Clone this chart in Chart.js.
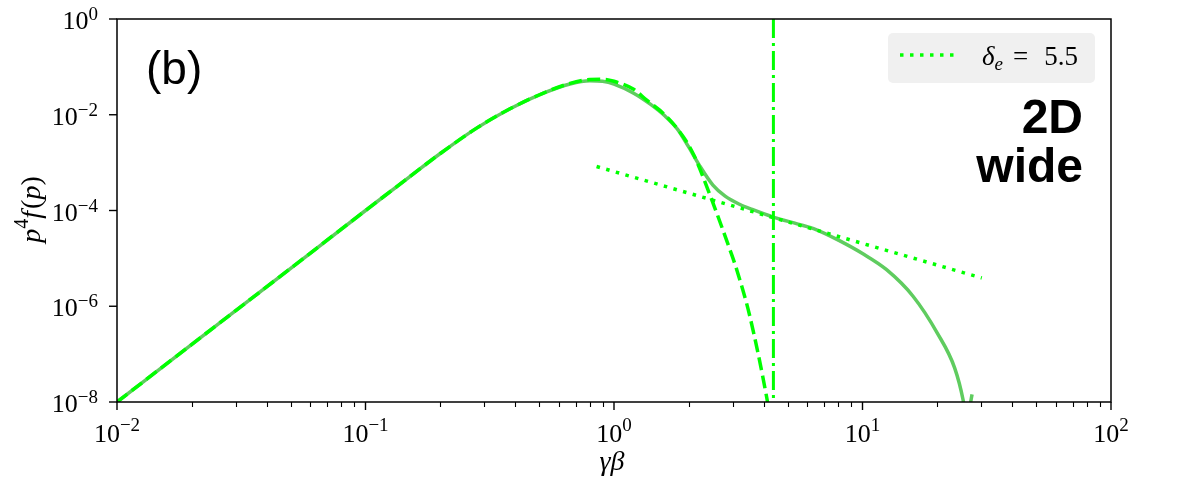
<!DOCTYPE html>
<html>
<head>
<meta charset="utf-8">
<script src="https://cdn.jsdelivr.net/npm/chart.js@4.4.1/dist/chart.umd.min.js"></script>
<style>
  html, body { margin: 0; padding: 0; background: #fff; }
  canvas { display: block; }
</style>
</head>
<body>
<canvas id="myChart" width="1196" height="487"></canvas>
<script>
// simulation spectrum (solid)
const simX = [0.01, 0.02, 0.05, 0.1, 0.15, 0.2, 0.28, 0.38, 0.52, 0.665, 0.8, 0.9, 1.0, 1.2, 1.4, 1.6, 1.8, 2.0, 2.2, 2.5, 2.8, 3.2, 3.6, 4.4, 5.5, 6.5, 8, 10, 12.5, 16, 20, 23.5, 25.4, 26.2, 27.6];
const simY = [1e-8, 1.6e-7, 6.2e-6, 1.0e-4, 5.0e-4, 1.55e-3, 5.25e-3, 0.0132, 0.0282, 0.044, 0.0515, 0.050, 0.0437, 0.0282, 0.0166, 0.0095, 0.0050, 0.0021, 9.0e-4, 3.4e-4, 2.0e-4, 1.35e-4, 1.05e-4, 7.2e-5, 5.2e-5, 4.0e-5, 2.4e-5, 1.26e-5, 5.8e-6, 1.6e-6, 2.75e-7, 5.1e-8, 1.1e-8, 4e-9, 1.45e-8];

// maxwellian fit (dashed)
const maxX = [0.01, 0.02, 0.05, 0.1, 0.15, 0.2, 0.28, 0.38, 0.52, 0.665, 0.8, 0.9, 1.0, 1.2, 1.35, 1.6, 1.9, 2.1, 2.43, 2.93, 3.12, 3.52, 4.11, 4.3];
const maxY = [1e-8, 1.6e-7, 6.2e-6, 1.0e-4, 5.0e-4, 1.55e-3, 5.25e-3, 0.0132, 0.0284, 0.0452, 0.0543, 0.055, 0.050, 0.034, 0.0204, 0.010, 3.47e-3, 1.41e-3, 2.14e-4, 1.5e-5, 5.75e-6, 6.2e-7, 1.3e-8, 3.2e-9];

// power law, delta_e = 5.5 (dotted)
const powX = [0.851, 30.2];
const powY = [8.3e-4, 3.9e-6];

// injection momentum marker (dash-dot)
const cutX = [4.38, 4.38];
const cutY = [1, 1e-8];

const xTicks = [-2, -1, 0, 1, 2];
const yTicks = [0, -2, -4, -6, -8];
const legendLabel = '5.5';

const lime = '#00ff00';
const simColor = '#5fcc5f';

function pts(xs, ys) {
    return xs.map((x, i) => ({ x: x, y: ys[i] }));
}

const serif = '"Liberation Serif"';

// axes, ticks, labels, legend, annotations
const decor = {
    id: 'decor',
    afterDraw(chart) {
        const c = chart.ctx;
        const a = chart.chartArea;
        const sx = chart.scales.x, sy = chart.scales.y;
        c.save();
        c.strokeStyle = '#000';
        c.fillStyle = '#000';

        // minor x ticks
        c.lineWidth = 1.1;
        for (let d = -2; d < 2; d++) {
            for (let k = 2; k < 10; k++) {
                const px = Math.round(sx.getPixelForValue(k * Math.pow(10, d))) + 0.5;
                c.beginPath(); c.moveTo(px, a.bottom); c.lineTo(px, a.bottom + 5); c.stroke();
            }
        }
        // major x ticks + labels
        c.lineWidth = 1.4;
        xTicks.forEach(e => {
            const px = sx.getPixelForValue(Math.pow(10, e));
            c.beginPath(); c.moveTo(px, a.bottom); c.lineTo(px, a.bottom + 8); c.stroke();
            const ex = (e < 0 ? '\u2212' : '') + Math.abs(e);
            c.font = '26px ' + serif;
            const w1 = c.measureText('10').width;
            c.font = '19px ' + serif;
            const w2 = c.measureText(ex).width;
            const x0 = px - (w1 + w2) / 2;
            c.textAlign = 'left'; c.textBaseline = 'alphabetic';
            c.font = '26px ' + serif;
            c.fillText('10', x0, a.bottom + 40);
            c.font = '19px ' + serif;
            c.fillText(ex, x0 + w1, a.bottom + 29);
        });
        // major y ticks + labels
        yTicks.forEach(e => {
            const py = sy.getPixelForValue(Math.pow(10, e));
            c.beginPath(); c.moveTo(a.left, py); c.lineTo(a.left - 8, py); c.stroke();
            const ex = (e < 0 ? '\u2212' : '') + Math.abs(e);
            c.font = '19px ' + serif;
            const w2 = c.measureText(ex).width;
            c.font = '26px ' + serif;
            const w1 = c.measureText('10').width;
            const xr = a.left - 19;
            c.textAlign = 'left';
            c.fillText('10', xr - w2 - w1, py + 10);
            c.font = '19px ' + serif;
            c.fillText(ex, xr - w2, py + 1);
        });

        // frame
        c.lineWidth = 1.5;
        c.strokeRect(a.left, a.top, a.right - a.left, a.bottom - a.top);

        // axis titles
        c.font = 'italic 28px ' + serif;
        c.textAlign = 'center';
        c.fillText('\u03b3\u03b2', (a.left + a.right) / 2 - 2, 470);

        c.save();
        c.translate(40, (a.top + a.bottom) / 2);
        c.rotate(-Math.PI / 2);
        const parts = [
            ['p', 'italic 28px ' + serif, 0],
            ['4', '20px ' + serif, -12],
            ['f', 'italic 28px ' + serif, 0],
            ['(', '28px ' + serif, 0],
            ['p', 'italic 28px ' + serif, 0],
            [')', '28px ' + serif, 0]
        ];
        let tw = 0;
        parts.forEach(p => { c.font = p[1]; tw += c.measureText(p[0]).width; });
        let cx = -tw / 2;
        c.textAlign = 'left';
        parts.forEach(p => {
            c.font = p[1];
            c.fillText(p[0], cx, p[2]);
            cx += c.measureText(p[0]).width + (p[0] === 'f' ? 2 : 0);
        });
        c.restore();

        // panel tag
        c.font = '46px "Liberation Sans"';
        c.textAlign = 'left';
        c.fillText('(b)', 146, 84);

        // 2D wide
        c.font = 'bold 48px "Liberation Sans"';
        c.textAlign = 'right';
        c.fillText('2D', 1083, 133);
        c.fillText('wide', 1083, 182);

        // legend box
        c.fillStyle = '#f0f0f0';
        c.beginPath();
        c.roundRect(888, 33, 207, 50, 5);
        c.fill();
        c.strokeStyle = lime;
        c.lineWidth = 3.5;
        c.setLineDash([3.5, 6.5]);
        c.beginPath(); c.moveTo(900, 55); c.lineTo(960, 55); c.stroke();
        c.setLineDash([]);
        c.fillStyle = '#000';
        c.textAlign = 'left';
        let lx = 982;
        c.font = 'italic 27px ' + serif;
        c.fillText('\u03b4', lx, 65);
        lx += c.measureText('\u03b4').width;
        c.font = 'italic 19px ' + serif;
        c.fillText('e', lx, 70);
        lx += c.measureText('e').width + 10;
        c.font = '27px ' + serif;
        c.fillText('=', lx, 65);
        lx += c.measureText('=').width + 16;
        c.fillText(legendLabel, lx, 65);

        c.restore();
    }
};

new Chart(document.getElementById('myChart'), {
    type: 'line',
    data: {
        datasets: [{
            label: 'simulation',
            data: pts(simX, simY),
            borderColor: simColor,
            borderWidth: 3.5,
            cubicInterpolationMode: 'monotone',
            clip: 0,
            order: 4
        }, {
            label: 'maxwellian',
            data: pts(maxX, maxY),
            borderColor: lime,
            borderWidth: 3.5,
            borderDash: [13, 5.5],
            cubicInterpolationMode: 'monotone',
            clip: 0,
            order: 3
        }, {
            label: '\u03b4e = 5.5',
            data: pts(powX, powY),
            borderColor: lime,
            borderWidth: 3.5,
            borderDash: [3.5, 6.5],
            order: 2
        }, {
            label: 'cut',
            data: pts(cutX, cutY),
            borderColor: lime,
            borderWidth: 3,
            borderDash: [19, 5, 3, 5],
            clip: 0,
            order: 1
        }]
    },
    options: {
        responsive: false,
        animation: false,
        layout: { padding: { left: 117, right: 85, top: 19, bottom: 85 } },
        elements: { point: { radius: 0 }, line: { borderCapStyle: 'butt' } },
        scales: {
            x: { type: 'logarithmic', min: 0.01, max: 100, display: false },
            y: { type: 'logarithmic', min: 1e-8, max: 1, display: false }
        },
        plugins: {
            legend: { display: false },
            tooltip: { enabled: false }
        }
    },
    plugins: [decor]
});
</script>
</body>
</html>
